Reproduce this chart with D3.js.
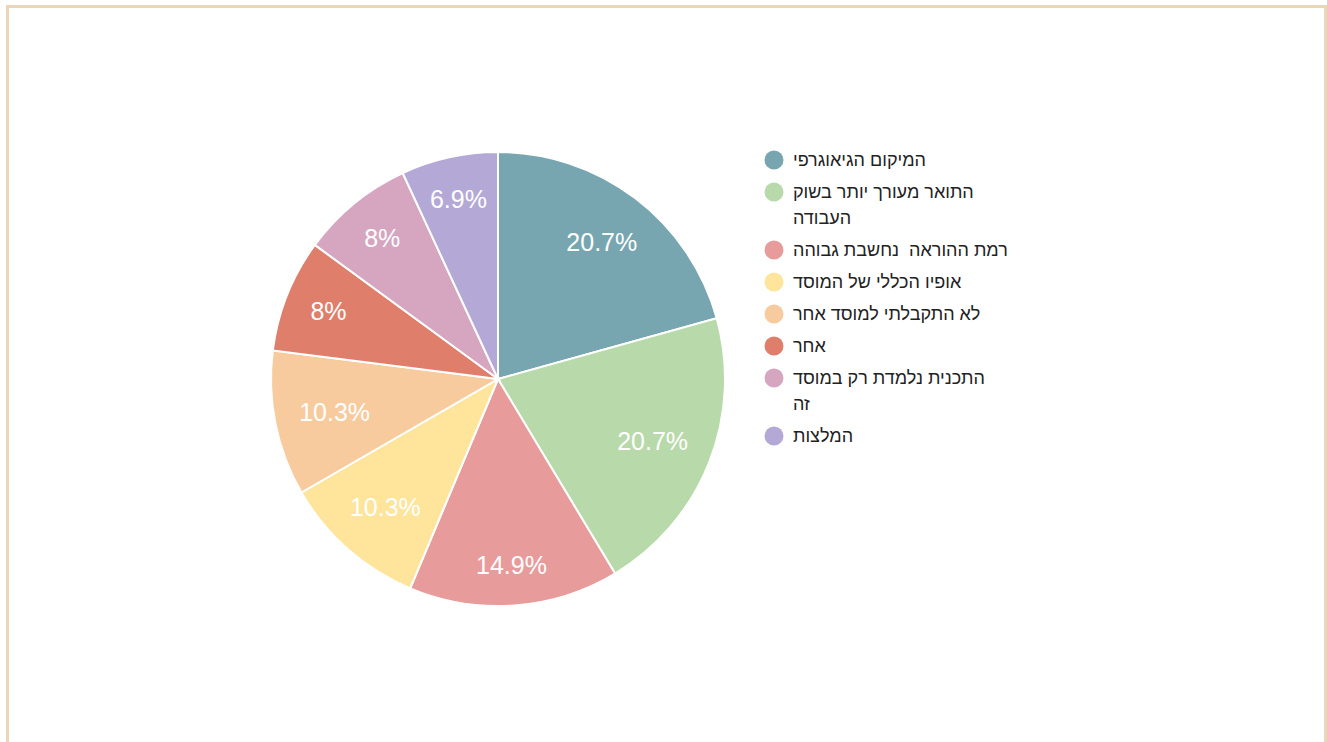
<!DOCTYPE html>
<html><head><meta charset="utf-8">
<script src="https://cdn.jsdelivr.net/npm/d3@7"></script>
<style>
html,body{margin:0;padding:0;background:#fff;overflow:hidden;}
#frame{position:absolute;left:6px;top:5px;width:1315px;height:800px;border:3px solid #ecd6bb;border-bottom:none;}
svg{position:absolute;left:0;top:0;}
</style></head>
<body>
<div id="frame"></div>
<svg id="chart" width="1327" height="742"></svg>
<script>
const categories = ["המיקום הגיאוגרפי","התואר מעורך יותר בשוק העבודה","רמת ההוראה  נחשבת גבוהה","אופיו הכללי של המוסד","לא התקבלתי למוסד אחר","אחר","התכנית נלמדת רק במוסד זה","המלצות"];
const legendLines = [["המיקום הגיאוגרפי"],["התואר מעורך יותר בשוק","העבודה"],["רמת ההוראה  נחשבת גבוהה"],["אופיו הכללי של המוסד"],["לא התקבלתי למוסד אחר"],["אחר"],["התכנית נלמדת רק במוסד","זה"],["המלצות"]];
const counts = [18, 18, 13, 9, 9, 7, 7, 6];
const colors = ["#78a6b0","#b8d9a9","#e89b9b","#fee59b","#f8cb9e","#df7e6b","#d6a6c0","#b4a8d6"];

const svg = d3.select("#chart");
const cx = 498, cy = 379, R = 227;
const total = d3.sum(counts);
const data = categories.map((c,i)=>({cat:c, lines:legendLines[i], value:counts[i], color:colors[i]}));
const pie = d3.pie().value(d=>d.value).sort(null);
const arcs = pie(data);
const arc = d3.arc().innerRadius(0).outerRadius(R);
const g = svg.append("g").attr("transform",`translate(${cx},${cy})`);
g.selectAll("path").data(arcs).join("path")
  .attr("d",arc).attr("fill",d=>d.data.color)
  .attr("stroke","#fff").attr("stroke-width",2);

const fmt = v => { const p = Math.round(v/total*1000)/10; return p + "%"; };
const fs = 25, boxH = 25, limit = R - 23;
g.selectAll("text.lbl").data(arcs).join("text").attr("class","lbl")
  .attr("font-family","Liberation Sans, Arial, sans-serif").attr("font-size",fs)
  .attr("fill","#fff").attr("text-anchor","middle").attr("dominant-baseline","central")
  .text(d=>fmt(d.data.value))
  .each(function(d){
    const w = this.getComputedTextLength();
    const a = (d.startAngle+d.endAngle)/2;
    const ux = Math.sin(a), uy = -Math.cos(a);
    let lo=0, hi=R;
    for(let k=0;k<40;k++){
      const t=(lo+hi)/2;
      const x=ux*t, y=uy*t;
      const fx = Math.abs(x)+w/2, fy = Math.abs(y)+boxH/2;
      if(Math.hypot(fx,fy) > limit) hi=t; else lo=t;
    }
    d3.select(this).attr("x",ux*lo).attr("y",uy*lo);
  });

// legend
const lg = svg.append("g").attr("transform","translate(774,160)");
const lineH = 26, gap = 32;
let yy = 0;
data.forEach((d)=>{
  const item = lg.append("g").attr("transform",`translate(0,${yy})`);
  item.append("circle").attr("r",9.5).attr("fill",d.color);
  const t = item.append("text").attr("x",19).attr("y",0)
    .attr("font-family","Liberation Sans, Arial, sans-serif").attr("font-size",18)
    .attr("fill","#222").attr("dominant-baseline","central")
    .style("white-space","pre");
  d.lines.forEach((ln,i)=>{
    t.append("tspan").attr("x",19).attr("y",i*lineH).text(ln);
  });
  yy += gap + (d.lines.length-1)*lineH;
});
</script>
</body></html>
